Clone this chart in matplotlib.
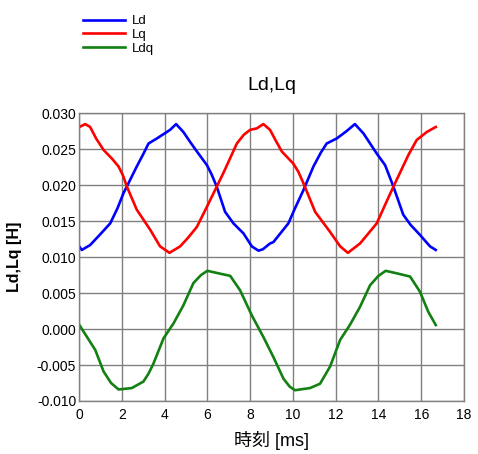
import matplotlib
matplotlib.use("Agg")
import matplotlib.pyplot as plt
from matplotlib.ticker import FormatStrFormatter, MultipleLocator

plt.rcParams['font.family'] = ['Liberation Sans', 'Noto Sans CJK JP', 'DejaVu Sans']
plt.rcParams['axes.unicode_minus'] = True

# Ld (blue)
ld_t = [0.02, 0.13, 0.52, 1.0, 1.46, 1.8, 2.08, 2.4, 2.7, 3.0, 3.25, 3.64, 4.26, 4.54, 4.88, 5.2, 5.51, 5.98,
        6.2, 6.44, 6.83, 7.22, 7.69, 8.08, 8.39, 8.6, 8.93, 9.09, 9.79, 10.1, 10.49, 10.96, 11.3, 11.58, 12.05,
        12.5, 12.9, 13.3, 13.92, 14.31, 14.7, 15.16, 15.5, 15.94, 16.41, 16.68]
ld_v = [0.01145, 0.0110, 0.01168, 0.0132, 0.0147, 0.0168, 0.0189, 0.0208, 0.0226, 0.0243, 0.0258, 0.0265,
        0.0277, 0.0285, 0.0274, 0.0260, 0.0247, 0.0228, 0.0215, 0.0198, 0.0163, 0.0147, 0.0133, 0.0115, 0.0109,
        0.0111, 0.0119, 0.0121, 0.0147, 0.0168, 0.0193, 0.0226, 0.0245, 0.0258, 0.0265, 0.0275, 0.0285, 0.0272,
        0.0244, 0.0228, 0.0198, 0.0159, 0.0145, 0.0131, 0.0115, 0.0110]

# Lq (red)
lq_t = [0.02, 0.29, 0.52, 0.8, 1.15, 1.54, 1.85, 2.05, 2.24, 2.7, 3.33, 3.79, 4.23, 4.73, 5.1, 5.51, 5.98,
        6.75, 7.38, 7.7, 8.0, 8.31, 8.62, 8.93, 9.2, 9.48, 10.02, 10.25, 10.49, 11.04, 11.74, 12.21, 12.57,
        13.14, 13.92, 14.3, 14.7, 15.4, 15.79, 16.26, 16.68]
lq_v = [0.0281, 0.0285, 0.0281, 0.0265, 0.0249, 0.0237, 0.0226, 0.0214, 0.0198, 0.0166, 0.0138, 0.0115,
        0.0106, 0.0115, 0.0127, 0.0142, 0.0170, 0.0217, 0.0258, 0.0270, 0.0277, 0.0279, 0.0285, 0.0277,
        0.0262, 0.0247, 0.0230, 0.0219, 0.0203, 0.0163, 0.0135, 0.0115, 0.0106, 0.0119, 0.0147, 0.0172,
        0.0198, 0.0242, 0.0263, 0.0274, 0.0281]

# Ldq (green)
ldq_t = [0.02, 0.76, 1.15, 1.5, 1.85, 2.47, 3.01, 3.25, 3.48, 3.95, 4.42, 4.88, 5.35, 5.7, 6.0, 6.6, 7.07,
         7.53, 8.08, 8.62, 9.09, 9.56, 9.85, 10.1, 10.8, 11.27, 11.74, 12.21, 12.67, 13.14, 13.61, 14.0,
         14.34, 14.93, 15.48, 15.94, 16.33, 16.68]
ldq_v = [0.00056, -0.0029, -0.0059, -0.0075, -0.0084, -0.0082, -0.0073, -0.0062, -0.0048, -0.0013,
         0.0008, 0.0033, 0.0064, 0.0075, 0.0081, 0.0077, 0.0074, 0.0054, 0.0019, -0.0011, -0.0039,
         -0.0069, -0.0080, -0.0085, -0.0082, -0.0076, -0.0052, -0.0015, 0.0006, 0.0031, 0.0061, 0.0074,
         0.0081, 0.0077, 0.0073, 0.0052, 0.0024, 0.00056]

W, H = 478, 454
fig = plt.figure(figsize=(W / 100, H / 100), dpi=100)
ax = fig.add_axes([79 / W, 1 - 401 / H, (464 - 79) / W, (401 - 113.3) / H])

l1, = ax.plot(ld_t, ld_v, color='#0000ff', lw=1.9, label='Ld', solid_joinstyle='round')
l2, = ax.plot(lq_t, lq_v, color='#ff0000', lw=1.9, label='Lq', solid_joinstyle='round')
l3, = ax.plot(ldq_t, ldq_v, color='#128012', lw=1.9, label='Ldq', solid_joinstyle='round')

ax.set_xlim(0, 18)
ax.set_ylim(-0.010, 0.030)
ax.xaxis.set_major_locator(MultipleLocator(2))
ax.yaxis.set_major_locator(MultipleLocator(0.005))
ax.yaxis.set_major_formatter(FormatStrFormatter('%.3f'))
ax.grid(True, color='#808080', lw=1.0)
ax.set_axisbelow(True)
for s in ax.spines.values():
    s.set_color('#808080')
    s.set_linewidth(1.0)
ax.tick_params(length=0, labelsize=10, pad=2)
ax.tick_params(axis='x', pad=5)

ax.set_title('Ld,Lq', fontsize=14, pad=17)
ax.set_ylabel('Ld,Lq [H]', fontsize=11.5, fontweight='bold')
ax.yaxis.set_label_coords((14 - 79) / (464 - 79), 0.5)
ax.set_xlabel('時刻 [ms]', fontsize=13)
ax.xaxis.set_label_coords(0.5, -(441 - 401) / (401 - 113.3))
ax.xaxis.label.set_va('center')
ax.yaxis.label.set_va('center')
ax.yaxis.label.set_ha('center')

fig.legend(handles=[l1, l2, l3], loc='upper left', bbox_to_anchor=(74 / W, 1 - 6 / H),
           frameon=False, fontsize=9.5, handlelength=3.2, handletextpad=0.5,
           labelspacing=0.1, borderpad=0.2)

fig.savefig('out.png', dpi=100)
